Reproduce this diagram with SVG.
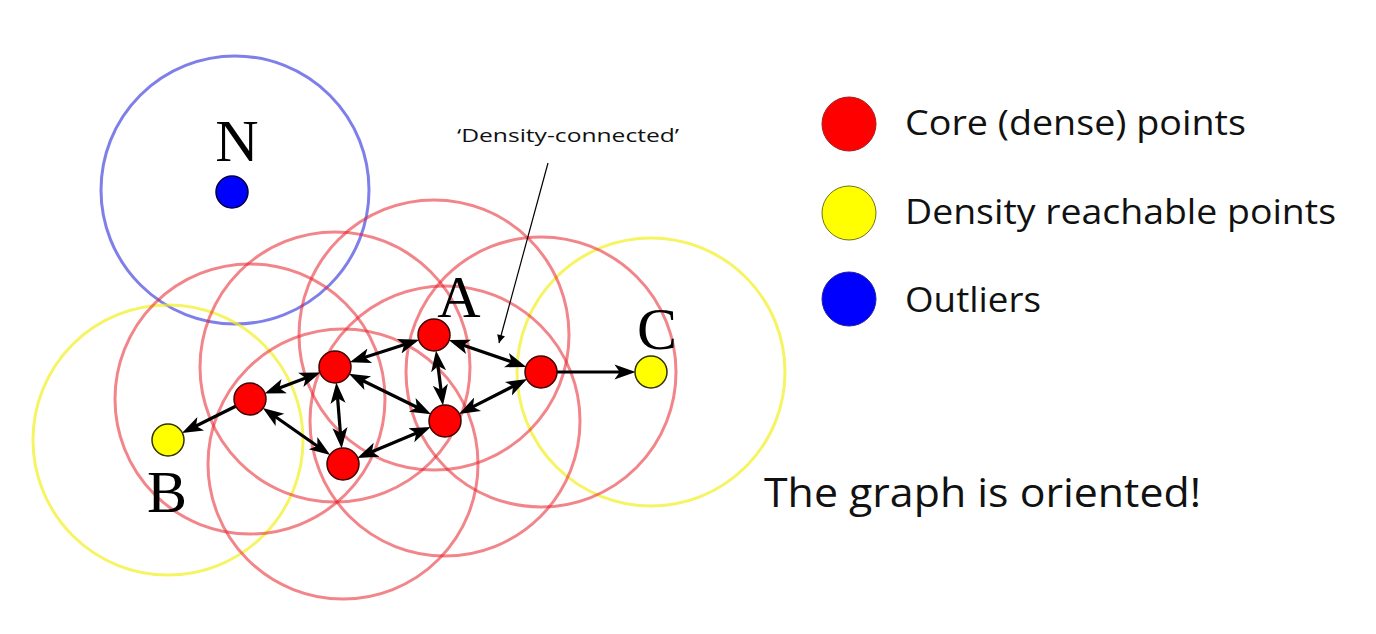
<svg xmlns="http://www.w3.org/2000/svg" width="1376" height="634" viewBox="0 0 1376 634">
  <style>
    .rng { fill: none; stroke-width: 3; }
    .rr { stroke: #e8202a; stroke-opacity: 0.55; }
    .ry { stroke: #f2f020; stroke-opacity: 0.7; }
    .rb { stroke: #4848e0; stroke-opacity: 0.7; }
    .core { fill: #ff0000; stroke: #400000; stroke-width: 1.5; }
    .reach { fill: #ffff00; stroke: #303000; stroke-width: 1.5; }
    .out { fill: #0000ff; stroke: #000040; stroke-width: 1.5; }
    .edge { stroke: #000; stroke-width: 3.2; fill: none; }
    .lbl { font-family: "Liberation Serif", "Times New Roman", serif; font-size: 60px; fill: #000; text-anchor: middle; }
    .txt { font-family: "Open Sans", "Liberation Sans", sans-serif; fill: #111; }
  </style>
  <defs>
    <marker id="ah" viewBox="0 0 10 10" refX="5.5" refY="5" markerWidth="21" markerHeight="21" markerUnits="userSpaceOnUse" orient="auto-start-reverse">
      <path d="M0,1.4 L10,5 L0,8.6 L2.5,5 z" fill="#000"/>
    </marker>
    <marker id="ahs" viewBox="0 0 10 10" refX="10" refY="5" markerWidth="10" markerHeight="8" markerUnits="userSpaceOnUse" orient="auto">
      <path d="M0,0 L10,5 L0,10 z" fill="#000"/>
    </marker>
  </defs>
  <rect width="1376" height="634" fill="#fff"/>

  <g id="ranges">
    <circle class="rng rb" cx="235" cy="190" r="134"/>
    <circle class="rng ry" cx="168" cy="440" r="135"/>
    <circle class="rng ry" cx="651" cy="372" r="134"/>
    <circle class="rng rr" cx="250" cy="399" r="135"/>
    <circle class="rng rr" cx="335" cy="367" r="135"/>
    <circle class="rng rr" cx="434" cy="335" r="135"/>
    <circle class="rng rr" cx="343" cy="464" r="135"/>
    <circle class="rng rr" cx="445" cy="421" r="135"/>
    <circle class="rng rr" cx="541" cy="372" r="135"/>
  </g>

  <g id="connectors">
    <line class="edge" x1="235.7" y1="406.2" x2="190.4" y2="428.8" marker-end="url(#ah)"/>
    <line class="edge" x1="273.4" y1="390.2" x2="311.6" y2="375.8" marker-start="url(#ah)" marker-end="url(#ah)"/>
    <line class="edge" x1="270.5" y1="413.3" x2="322.5" y2="449.7" marker-start="url(#ah)" marker-end="url(#ah)"/>
    <line class="edge" x1="358.8" y1="359.3" x2="410.2" y2="342.7" marker-start="url(#ah)" marker-end="url(#ah)"/>
    <line class="edge" x1="337.1" y1="391.9" x2="340.9" y2="439.1" marker-start="url(#ah)" marker-end="url(#ah)"/>
    <line class="edge" x1="357.4" y1="378.0" x2="422.6" y2="410.0" marker-start="url(#ah)" marker-end="url(#ah)"/>
    <line class="edge" x1="437.2" y1="359.8" x2="441.8" y2="396.2" marker-start="url(#ah)" marker-end="url(#ah)"/>
    <line class="edge" x1="457.6" y1="343.2" x2="517.4" y2="363.8" marker-start="url(#ah)" marker-end="url(#ah)"/>
    <line class="edge" x1="366.0" y1="454.3" x2="422.0" y2="430.7" marker-start="url(#ah)" marker-end="url(#ah)"/>
    <line class="edge" x1="467.3" y1="409.6" x2="518.7" y2="383.4" marker-start="url(#ah)" marker-end="url(#ah)"/>
    <line class="edge" x1="557" y1="372" x2="626" y2="372" marker-end="url(#ah)"/>
    <line x1="548" y1="163" x2="499" y2="343" stroke="#000" stroke-width="1.2" marker-end="url(#ahs)"/>
  </g>

  <g id="node-N"><circle class="out" cx="232" cy="192" r="16"/><text class="lbl" x="237" y="161">N</text></g>
  <g id="node-B"><circle class="reach" cx="168" cy="440" r="16"/><text class="lbl" x="167" y="512">B</text></g>
  <g id="node-C"><circle class="reach" cx="651" cy="372" r="16"/><text class="lbl" x="657" y="349">C</text></g>
  <g id="node-A"><circle class="core" cx="434" cy="335" r="16"/><text class="lbl" x="459" y="317">A</text></g>
  <g id="node-P1"><circle class="core" cx="335" cy="367" r="16"/></g>
  <g id="node-P2"><circle class="core" cx="250" cy="399" r="16"/></g>
  <g id="node-P3"><circle class="core" cx="343" cy="464" r="16"/></g>
  <g id="node-P4"><circle class="core" cx="445" cy="421" r="16"/></g>
  <g id="node-P5"><circle class="core" cx="541" cy="372" r="16"/></g>

  <g id="annotation">
    <text class="txt" x="457" y="142" font-size="19" textLength="222" lengthAdjust="spacingAndGlyphs">‘Density-connected’</text>
  </g>

  <g id="legend">
    <circle cx="849" cy="124" r="27" fill="#ff0000" stroke="#a02020" stroke-width="1"/>
    <text class="txt" x="905" y="135" font-size="34" textLength="341" lengthAdjust="spacingAndGlyphs">Core (dense) points</text>
    <circle cx="849" cy="213" r="27" fill="#ffff00" stroke="#707020" stroke-width="1"/>
    <text class="txt" x="905" y="224" font-size="34" textLength="431" lengthAdjust="spacingAndGlyphs">Density reachable points</text>
    <circle cx="849" cy="299" r="27" fill="#0000ff" stroke="#2020a0" stroke-width="1"/>
    <text class="txt" x="905" y="312" font-size="34" textLength="136" lengthAdjust="spacingAndGlyphs">Outliers</text>
  </g>

  <g id="caption">
    <text class="txt" x="764" y="507" font-size="41" textLength="437" lengthAdjust="spacingAndGlyphs">The graph is oriented!</text>
  </g>
</svg>
